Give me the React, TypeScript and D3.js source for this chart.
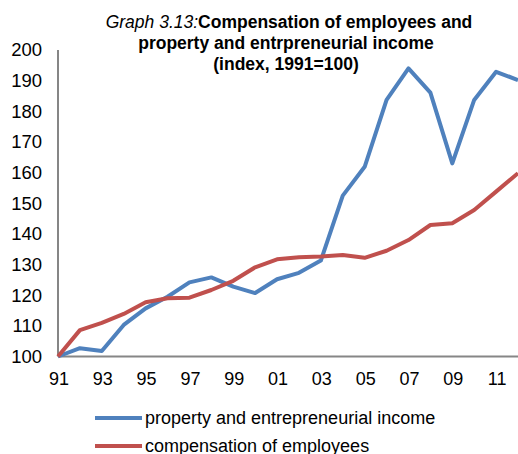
import { useEffect, useRef } from 'react';
import * as d3 from 'd3';

const years = [1991, 1992, 1993, 1994, 1995, 1996, 1997, 1998, 1999, 2000, 2001, 2002, 2003, 2004, 2005, 2006, 2007, 2008, 2009, 2010, 2011, 2012];
const property = [100, 102.7, 101.8, 110.3, 115.7, 119.5, 124.2, 125.8, 122.8, 120.7, 125.2, 127.3, 131.3, 152.5, 161.9, 183.7, 194, 186.1, 163, 183.7, 192.9, 190.2];
const compensation = [100, 108.6, 111, 113.9, 117.7, 119, 119.2, 121.7, 124.7, 129.1, 131.7, 132.4, 132.6, 133.1, 132.2, 134.5, 138, 142.9, 143.5, 147.8, 153.8, 159.8];
const yTicks = [100, 110, 120, 130, 140, 150, 160, 170, 180, 190, 200];
const xTicks = [1991, 1993, 1995, 1997, 1999, 2001, 2003, 2005, 2007, 2009, 2011];

const series = [
  { name: 'property and entrepreneurial income', values: property, color: '#4F81BD' },
  { name: 'compensation of employees', values: compensation, color: '#C0504D' },
];

export default function App() {
  const svgRef = useRef<SVGSVGElement>(null);

  useEffect(() => {
    if (!svgRef.current) return;
    const svg = d3.select(svgRef.current);
    svg.selectAll('*').remove();

    const width = 518;
    const height = 454;
    const font = 'Liberation Sans, Arial, sans-serif';

    svg.attr('width', width).attr('height', height);

    const x = d3.scaleLinear().domain([1991, 2012]).range([58, 518]);
    const y = d3.scaleLinear().domain([100, 200]).range([356.5, 50]);

    // Title
    const title = svg.append('text')
      .attr('x', 289)
      .attr('y', 28)
      .attr('text-anchor', 'middle')
      .attr('font-family', font)
      .attr('font-size', '17.5px')
      .attr('fill', '#000');
    title.append('tspan').attr('font-style', 'italic').text('Graph 3.13:');
    title.append('tspan').attr('font-weight', 'bold').text('Compensation of employees and');

    ['property and entrpreneurial income', '(index, 1991=100)'].forEach((t, i) => {
      svg.append('text')
        .attr('x', 286)
        .attr('y', 49 + i * 20.5)
        .attr('text-anchor', 'middle')
        .attr('font-family', font)
        .attr('font-size', '17.5px')
        .attr('font-weight', 'bold')
        .attr('fill', '#000')
        .text(t);
    });

    // Axes
    svg.append('line')
      .attr('x1', x(1991)).attr('x2', x(1991))
      .attr('y1', y(200)).attr('y2', y(100))
      .attr('stroke', '#868686').attr('stroke-width', 2);
    svg.append('line')
      .attr('x1', x(1991)).attr('x2', width)
      .attr('y1', y(100)).attr('y2', y(100))
      .attr('stroke', '#868686').attr('stroke-width', 2);

    yTicks.forEach((v) => {
      svg.append('text')
        .attr('x', 42)
        .attr('y', y(v))
        .attr('dy', '0.35em')
        .attr('text-anchor', 'end')
        .attr('font-family', font)
        .attr('font-size', '18.5px')
        .attr('fill', '#000')
        .text(v);
    });

    xTicks.forEach((v) => {
      svg.append('text')
        .attr('x', x(v) + 1)
        .attr('y', 384.5)
        .attr('text-anchor', 'middle')
        .attr('font-family', font)
        .attr('font-size', '18px')
        .attr('fill', '#000')
        .text(String(v).slice(2));
    });

    // Lines
    const line = d3.line<number>()
      .x((_, i) => x(years[i]))
      .y((d) => y(d));

    series.forEach((s) => {
      svg.append('path')
        .datum(s.values)
        .attr('d', line)
        .attr('fill', 'none')
        .attr('stroke', s.color)
        .attr('stroke-width', 4)
        .attr('stroke-linejoin', 'round');
    });

    // Legend
    series.forEach((s, i) => {
      const ly = 418 + i * 28;
      svg.append('line')
        .attr('x1', 95).attr('x2', 142)
        .attr('y1', ly).attr('y2', ly)
        .attr('stroke', s.color).attr('stroke-width', 4);
      svg.append('text')
        .attr('x', 145)
        .attr('y', ly)
        .attr('dy', '0.35em')
        .attr('font-family', font)
        .attr('font-size', '18px')
        .attr('fill', '#000')
        .text(s.name);
    });
  }, []);

  return (
    <div style={{ position: 'absolute', left: 0, top: 0 }}>
      <svg ref={svgRef} style={{ display: 'block' }} />
    </div>
  );
}
